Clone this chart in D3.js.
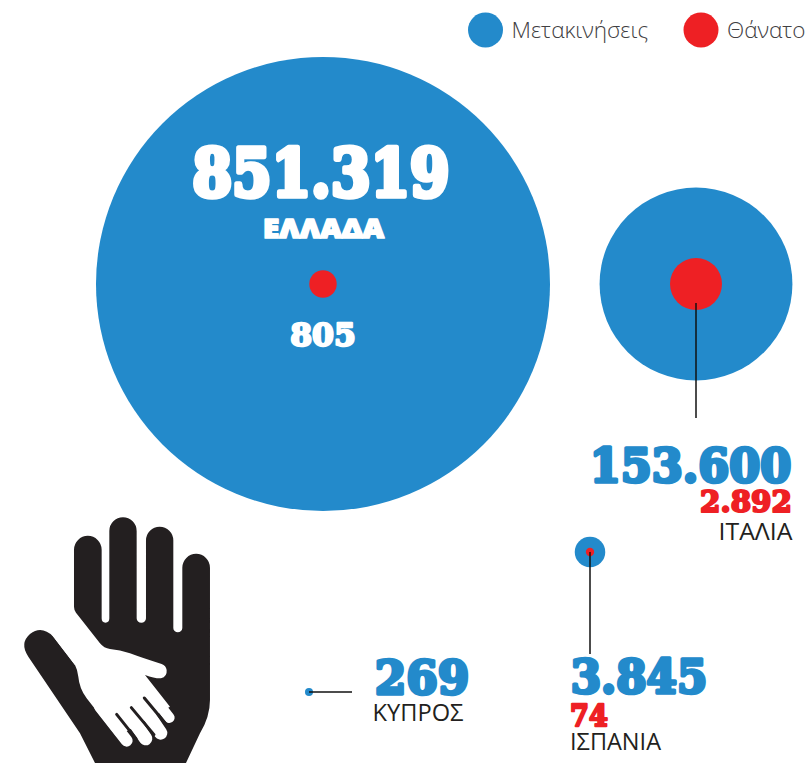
<!DOCTYPE html>
<html>
<head>
<meta charset="utf-8">
<style>
	html, body { margin: 0; padding: 0; background: #fff; overflow: hidden; }
</style>
<script src="https://cdn.jsdelivr.net/npm/d3@7"></script>
</head>
<body>
<div class="canvas"></div>
<script>
const countries = ['ΕΛΛΑΔΑ', 'ΙΤΑΛΙΑ', 'ΙΣΠΑΝΙΑ', 'ΚΥΠΡΟΣ'];
const movements = [851319, 153600, 3845, 269];
const deaths = [805, 2892, 74, null];
const legendLabels = ['Μετακινήσεις', 'Θάνατοι'];

const BLUE = '#238acb';
const RED = '#ee2024';
const INK = '#231f20';

const svg = d3.select('.canvas')
	.append('svg')
	.attr('width', 806)
	.attr('height', 763)
	.style('display', 'block');

// bubble area follows the value, the two series have their own scale
const rMove = d3.scaleSqrt().domain([0, d3.max(movements)]).range([0, 227]);
const rDeath = d3.scaleSqrt().domain([0, d3.max(deaths)]).range([0, 26]);
const color = d3.scaleOrdinal().domain(legendLabels).range([BLUE, RED]);

// greek number format, dot for thousands
const fmt = d3.formatLocale({ decimal: ',', thousands: '.', grouping: [3], currency: ['', '€'] }).format(',d');

// where each country sits on the page
const layout = {
	'ΕΛΛΑΔΑ': { cx: 323, cy: 284 },
	'ΙΤΑΛΙΑ': { cx: 696, cy: 284, leader: [0, 19, 0, 134] },
	'ΙΣΠΑΝΙΑ': { cx: 590, cy: 552, leader: [0, 0, 0, 102] },
	'ΚΥΠΡΟΣ': { cx: 309, cy: 692, leader: [0, 0, 43, 0] }
};

const data = countries.map((name, i) => ({
	name,
	movements: movements[i],
	deaths: deaths[i],
	...layout[name]
}));

// bubbles
svg.append('g').selectAll('circle')
	.data(data)
	.enter()
	.append('circle')
	.attr('cx', d => d.cx)
	.attr('cy', d => d.cy)
	.attr('r', d => rMove(d.movements))
	.attr('fill', color('Μετακινήσεις'));

svg.append('g').selectAll('circle')
	.data(data.filter(d => d.deaths !== null))
	.enter()
	.append('circle')
	.attr('cx', d => d.cx)
	.attr('cy', d => d.cy)
	.attr('r', d => rDeath(d.deaths))
	.attr('fill', color('Θάνατοι'));

// leader lines
svg.append('g').selectAll('line')
	.data(data.filter(d => d.leader))
	.enter()
	.append('line')
	.attr('x1', d => d.cx + d.leader[0])
	.attr('y1', d => d.cy + d.leader[1])
	.attr('x2', d => d.cx + d.leader[2])
	.attr('y2', d => d.cy + d.leader[3])
	.attr('stroke', '#111')
	.attr('stroke-width', 1.5);

// no fat slab font on the machine: take a bold one, fit its width to the box,
// stretch it up to the box height and thicken it with a stroke
const fat = (text, x0, x1, top, bottom, family, weight, capHeight, fill) => {
	const t = svg.append('text')
		.attr('font-family', family)
		.attr('font-weight', weight)
		.attr('font-size', 100)
		.attr('fill', fill)
		.attr('stroke', fill)
		.attr('stroke-linejoin', 'round')
		.text(text);
	const perEm = t.node().getComputedTextLength() / 100;
	const sw = (bottom - top) * 0.09;
	const size = (x1 - x0 - sw) / perEm;
	const sy = (bottom - top - sw) / (size * capHeight);
	t.attr('font-size', size)
		.attr('stroke-width', sw)
		.attr('transform', `translate(${x0 + sw / 2}, ${bottom - sw / 2}) scale(1, ${sy})`);
};

const slab = (text, x0, x1, top, bottom, fill) =>
	fat(text, x0, x1, top, bottom, '"DejaVu Serif", serif', 700, 0.729, fill);

const plain = (text, x, baseline, width, size) => {
	svg.append('text')
		.attr('x', x)
		.attr('y', baseline)
		.attr('fill', INK)
		.attr('font-family', '"Open Sans", sans-serif')
		.attr('font-size', size)
		.attr('textLength', width)
		.attr('lengthAdjust', 'spacingAndGlyphs')
		.text(text);
};

slab(fmt(movements[0]), 190, 452, 145, 198, '#fff');
fat(countries[0], 262, 385, 218, 239, '"Open Sans", sans-serif', 800, 0.714, '#fff');
slab(fmt(deaths[0]), 289, 357, 321, 347, '#fff');

slab(fmt(movements[1]), 588, 793, 446, 484, BLUE);
slab(fmt(deaths[1]), 699, 793, 489, 513, RED);
plain(countries[1], 718.5, 540, 74, 24);

slab(fmt(movements[2]), 569, 709, 658, 695, BLUE);
slab(fmt(deaths[2]), 569, 609, 703, 727, RED);
plain(countries[2], 570, 750, 91, 23);

slab(fmt(movements[3]), 373, 471, 659, 696, BLUE);
plain(countries[3], 372.5, 721, 91, 23);

// legend, the second entry runs off the page
const legend = svg.append('g').selectAll('g')
	.data(legendLabels)
	.enter()
	.append('g')
	.attr('transform', (d, i) => `translate(${[485.5, 701][i]}, 30)`);

legend.append('circle')
	.attr('r', 17.5)
	.attr('fill', d => color(d));

legend.append('text')
	.attr('x', 26)
	.attr('y', 7.5)
	.attr('font-family', '"Open Sans", sans-serif')
	.attr('font-weight', 300)
	.attr('font-size', 22.5)
	.attr('fill', '#414042')
	.text(d => d);

// hand icon, drawn in 3x units taken from a crop
const hand = svg.append('g')
	.attr('transform', 'translate(0, 500) scale(0.3333)');

hand.append('path')
	.attr('fill', INK)
	.attr('d', `M285,789 L240,700 L85,470 Q58,430 90,402 Q125,375 160,410 L225,495 L222,325
		L222,149 A41,41 0 0 1 305,149 L305,355 A11.5,13 0 0 0 328,355
		L328,93 A41,41 0 0 1 410,93 L410,355 A14,13 0 0 0 438,355
		L438,121 A41,41 0 0 1 520,121 L520,384 A13.5,13 0 0 0 547,384
		L547,203 A41.5,41.5 0 0 1 630,203 L630,600 Q630,650 600,700 L558,789 Z`);

// small white hand laid over the big one
hand.append('path')
	.attr('fill', '#fff')
	.attr('d', `M160,410 L225,495 Q233,510 235,530 Q238,565 260,595 L350,710 L510,620 L435,525
		Q465,536 483,535 Q502,530 500,510 Q498,497 485,492 Q430,475 390,460 Q360,450 330,447
		Q312,445 300,430 L228,338 Q222,330 222,320 L200,300 L120,340 Z`);

const fingerStart = [[300, 620], [350, 590], [395, 570], [440, 565]];
const fingerEnd = [[380, 722], [437, 716], [482, 699], [508, 653]];
const fingerWidth = [36, 40, 40, 32];

hand.selectAll('.finger')
	.data(fingerStart)
	.enter()
	.append('line')
	.attr('class', 'finger')
	.attr('x1', d => d[0])
	.attr('y1', d => d[1])
	.attr('x2', (d, i) => fingerEnd[i][0])
	.attr('y2', (d, i) => fingerEnd[i][1])
	.attr('stroke', '#fff')
	.attr('stroke-linecap', 'round')
	.attr('stroke-width', (d, i) => fingerWidth[i]);

// slits between the fingers
const slitStart = [[350, 643], [394, 623], [433, 594]];
const slitEnd = [[408, 716], [462, 704], [506, 682]];

hand.selectAll('.slit')
	.data(slitStart)
	.enter()
	.append('line')
	.attr('class', 'slit')
	.attr('x1', d => d[0])
	.attr('y1', d => d[1])
	.attr('x2', (d, i) => slitEnd[i][0])
	.attr('y2', (d, i) => slitEnd[i][1])
	.attr('stroke', INK)
	.attr('stroke-linecap', 'round')
	.attr('stroke-width', 9);
</script>
</body>
</html>
